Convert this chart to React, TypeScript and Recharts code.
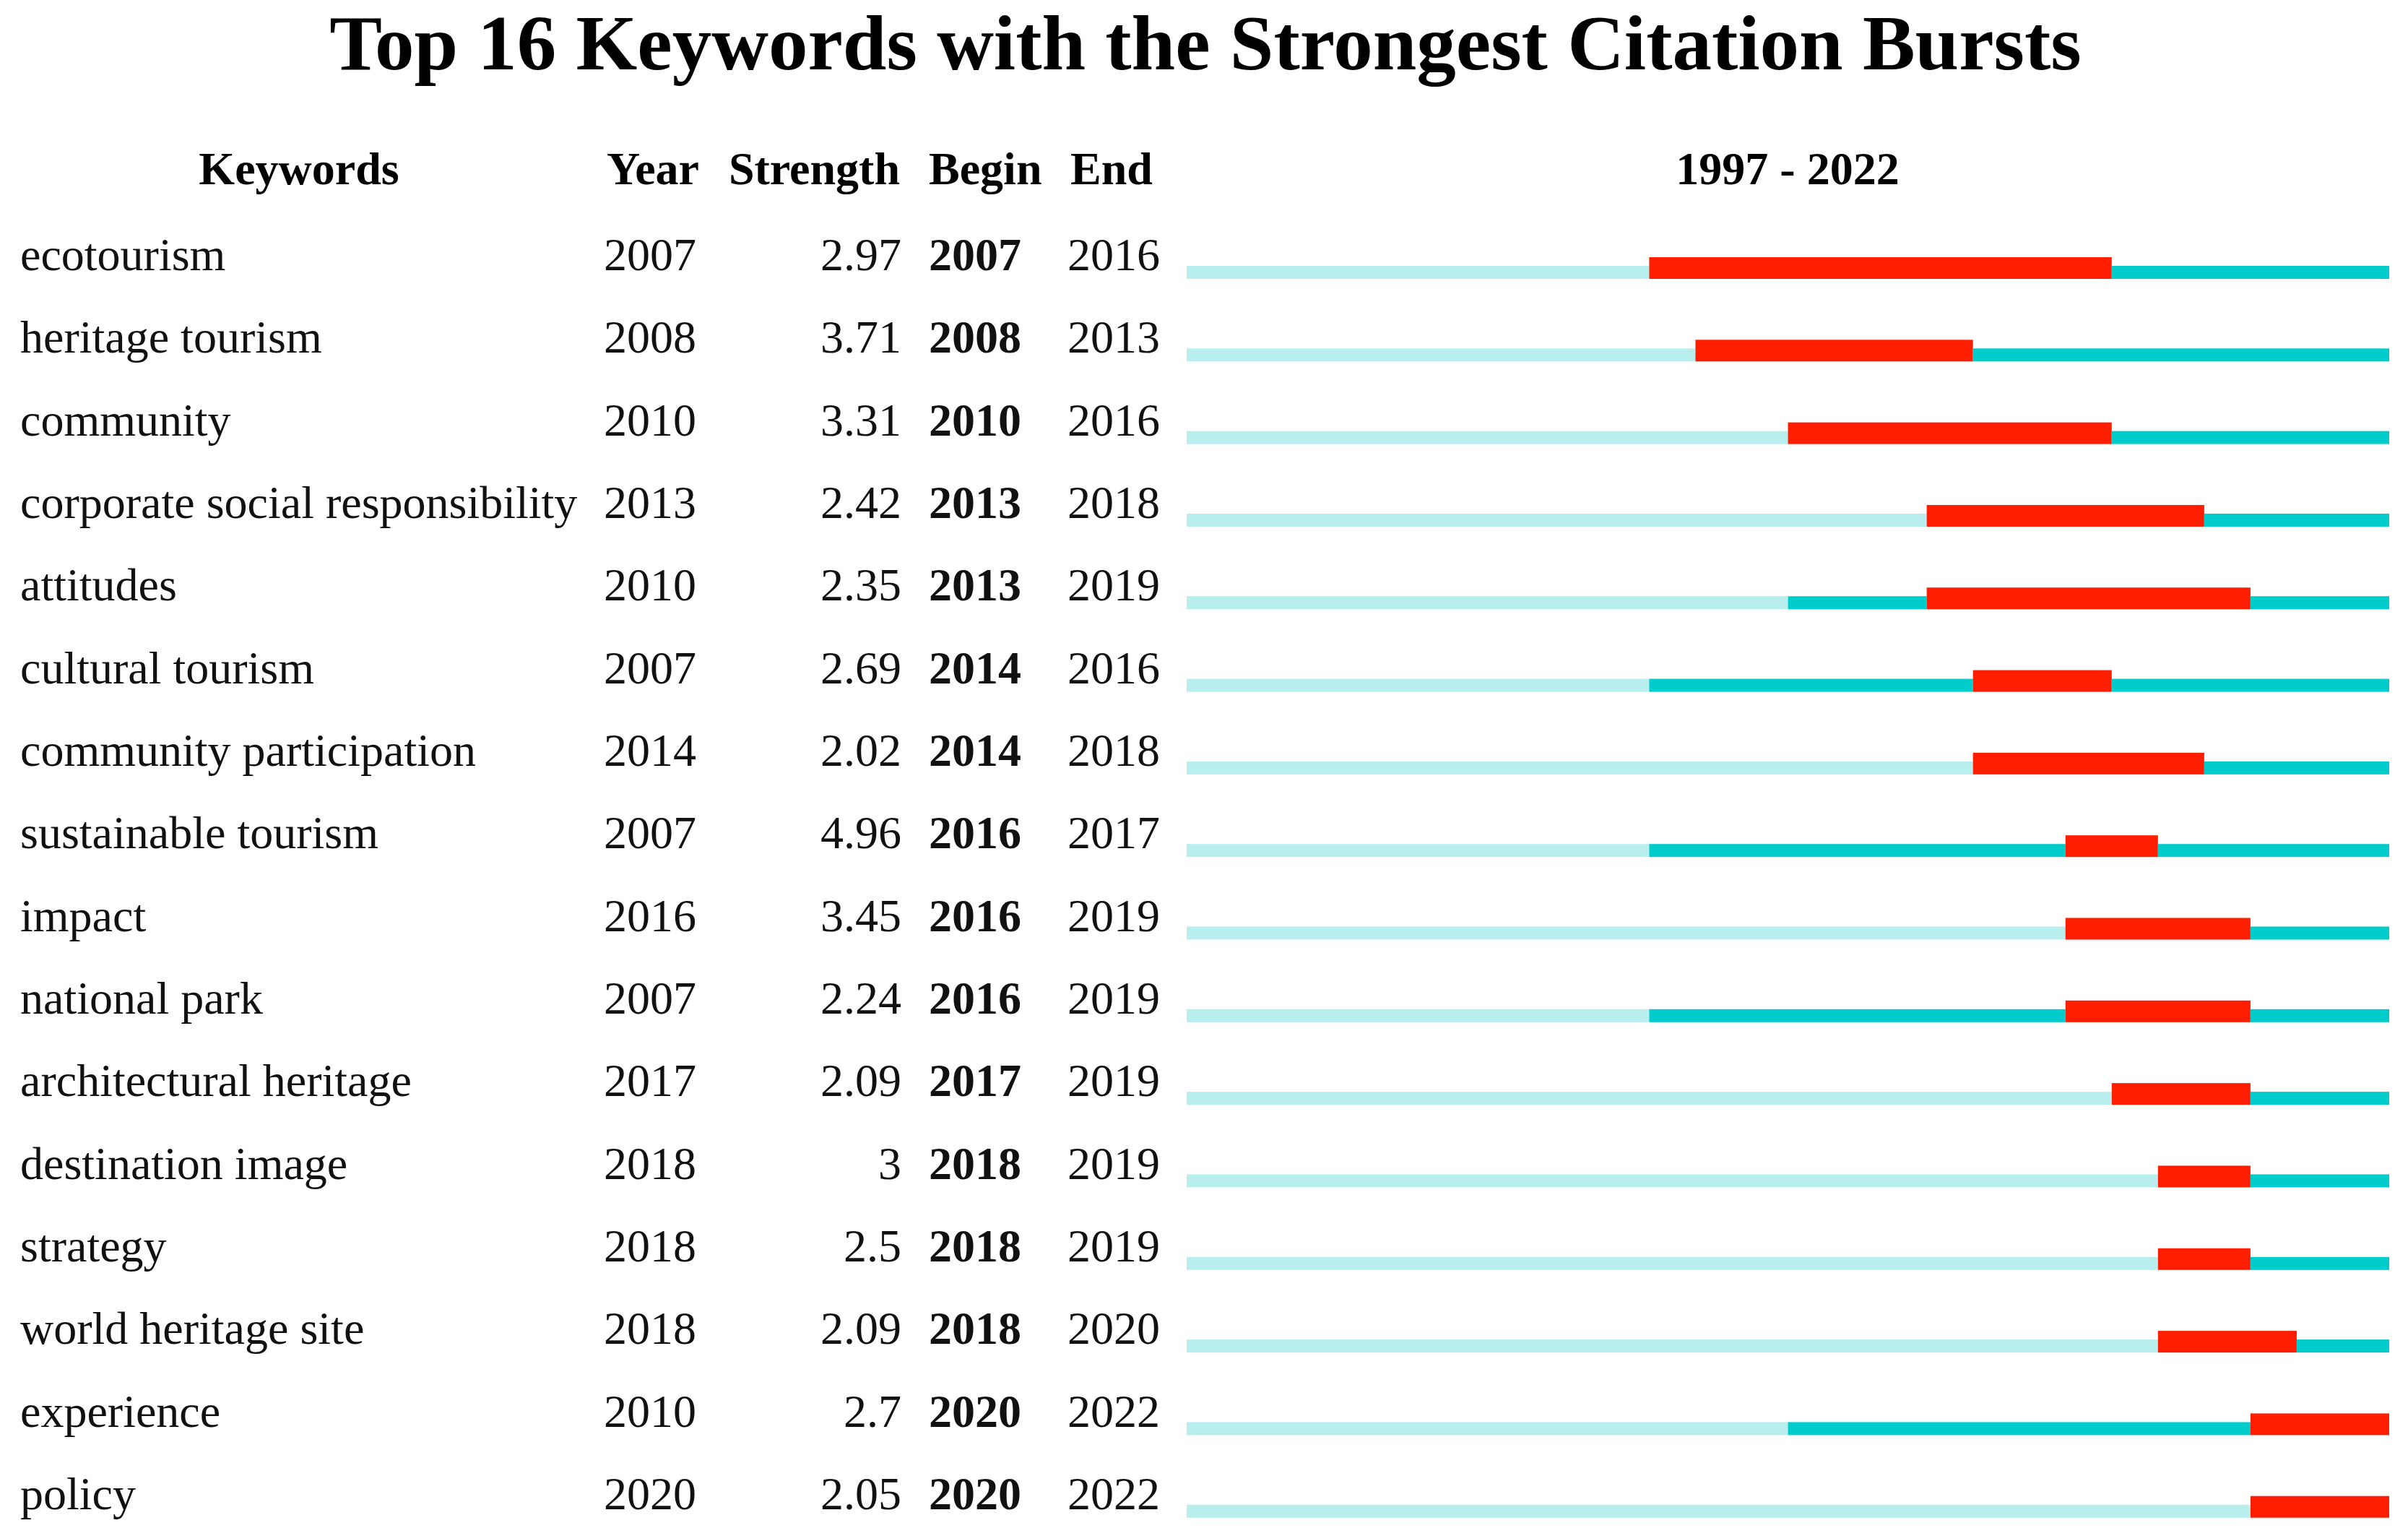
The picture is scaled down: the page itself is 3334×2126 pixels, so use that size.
import { BarChart, Bar, XAxis, YAxis } from 'recharts'

const W = 3334
const H = 2126
const FONT = '"Liberation Serif", "Times New Roman", Times, serif'

const FIRST_YEAR = 1997
const LAST_YEAR = 2022

const keywords = [
  'ecotourism',
  'heritage tourism',
  'community',
  'corporate social responsibility',
  'attitudes',
  'cultural tourism',
  'community participation',
  'sustainable tourism',
  'impact',
  'national park',
  'architectural heritage',
  'destination image',
  'strategy',
  'world heritage site',
  'experience',
  'policy',
]
const years = [2007, 2008, 2010, 2013, 2010, 2007, 2014, 2007, 2016, 2007, 2017, 2018, 2018, 2018, 2010, 2020]
const strengths = [2.97, 3.71, 3.31, 2.42, 2.35, 2.69, 2.02, 4.96, 3.45, 2.24, 2.09, 3, 2.5, 2.09, 2.7, 2.05]
const begins = [2007, 2008, 2010, 2013, 2013, 2014, 2014, 2016, 2016, 2016, 2017, 2018, 2018, 2018, 2020, 2020]
const ends = [2016, 2013, 2016, 2018, 2019, 2016, 2018, 2017, 2019, 2019, 2019, 2019, 2019, 2020, 2022, 2022]

const LIGHT = '#b9eeee'
const TEAL = '#00cccc'
const RED = '#ff1e00'

// each row is split into: before first appearance, appeared but no burst, burst, after burst
const data = keywords.map((k, i) => ({
  keyword: k,
  pre: years[i] - FIRST_YEAR,
  lead: begins[i] - years[i],
  burst: ends[i] + 1 - begins[i],
  tail: LAST_YEAR - ends[i],
}))

const thinBar = (fill: string) => (props: any) => {
  const { x, y, width, height } = props
  if (!width || width <= 0) return <g />
  const cy = y + height / 2
  return <rect x={x} y={cy + 18} width={width} height={18} fill={fill} />
}

const burstBar = (props: any) => {
  const { x, y, width, height } = props
  if (!width || width <= 0) return <g />
  const cy = y + height / 2
  return <rect x={x} y={cy + 6} width={width} height={30} fill={RED} />
}

function RowTick(props: any) {
  const { y, payload } = props
  const i = keywords.indexOf(payload.value)
  if (i < 0) return null
  const by = y + 24
  const common = { fontFamily: FONT, fontSize: 64, fill: '#111' }
  return (
    <g>
      <text x={28} y={by} textAnchor="start" {...common}>{keywords[i]}</text>
      <text x={836} y={by} textAnchor="start" {...common}>{years[i]}</text>
      <text x={1248} y={by} textAnchor="end" {...common}>{String(strengths[i])}</text>
      <text x={1286} y={by} textAnchor="start" fontWeight="bold" {...common}>{begins[i]}</text>
      <text x={1478} y={by} textAnchor="start" {...common}>{ends[i]}</text>
    </g>
  )
}

export default function App() {
  return (
    <div style={{ position: 'absolute', left: 0, top: 0, width: W, height: H, background: '#fff' }}>
      <BarChart
        width={W}
        height={H}
        data={data}
        layout="vertical"
        margin={{ top: 293, right: 26, bottom: 4, left: 0 }}
        barSize={30}
      >
        <XAxis type="number" domain={[0, LAST_YEAR + 1 - FIRST_YEAR]} hide allowDataOverflow />
        <YAxis
          type="category"
          dataKey="keyword"
          width={1643}
          axisLine={false}
          tickLine={false}
          interval={0}
          tick={<RowTick />}
        />
        <Bar dataKey="pre" stackId="t" fill={LIGHT} shape={thinBar(LIGHT)} isAnimationActive={false} />
        <Bar dataKey="lead" stackId="t" fill={TEAL} shape={thinBar(TEAL)} isAnimationActive={false} />
        <Bar dataKey="burst" stackId="t" fill={RED} shape={burstBar} isAnimationActive={false} />
        <Bar dataKey="tail" stackId="t" fill={TEAL} shape={thinBar(TEAL)} isAnimationActive={false} />
      </BarChart>
      <svg
        width={W}
        height={300}
        style={{ position: 'absolute', left: 0, top: 0, pointerEvents: 'none' }}
      >
        <text x={1669} y={96} textAnchor="middle" fontFamily={FONT} fontSize={109} fontWeight="bold" fill="#000">
          Top 16 Keywords with the Strongest Citation Bursts
        </text>
        <g fontFamily={FONT} fontSize={64} fontWeight="bold" fill="#000">
          <text x={414} y={255} textAnchor="middle">Keywords</text>
          <text x={840} y={255} textAnchor="start">Year</text>
          <text x={1246} y={255} textAnchor="end">Strength</text>
          <text x={1286} y={255} textAnchor="start">Begin</text>
          <text x={1482} y={255} textAnchor="start">End</text>
          <text x={2475} y={255} textAnchor="middle">{`${FIRST_YEAR} - ${LAST_YEAR}`}</text>
        </g>
      </svg>
    </div>
  )
}
